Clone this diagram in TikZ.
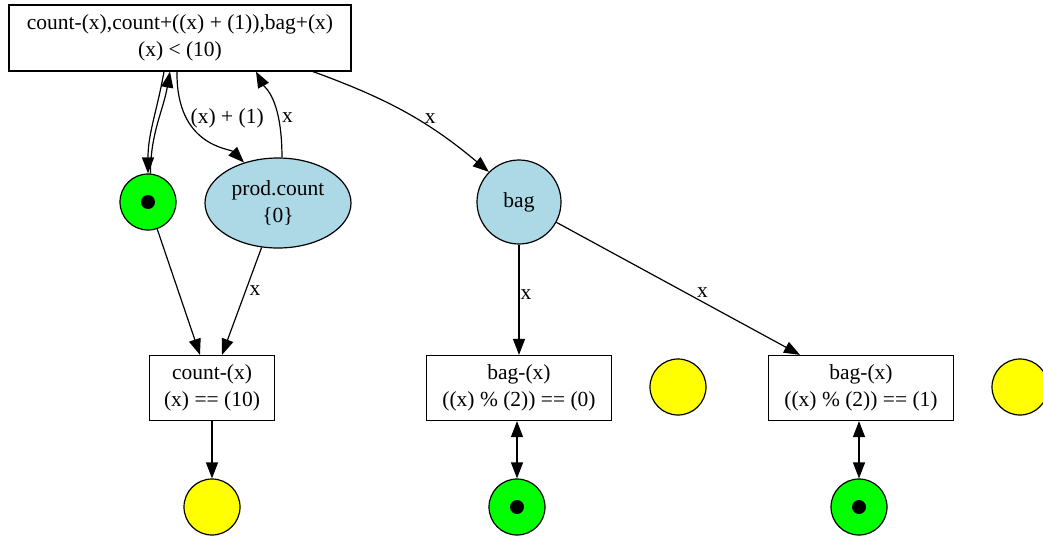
\documentclass[tikz,border=0pt]{standalone}
\usepackage{fontspec}
\setmainfont{Liberation Serif}
\usetikzlibrary{shapes.geometric,arrows.meta}
\definecolor{placegreen}{HTML}{00FF00}
\definecolor{placeyellow}{HTML}{FFFF00}
\definecolor{placeblue}{HTML}{ADD8E6}
\tikzset{
  trans/.style={draw, rectangle, align=center, inner sep=0pt, minimum height=65pt},
  place/.style={draw, circle, inner sep=0pt, minimum size=56pt},
  marked/.style={place, fill=placegreen,
    path picture={\fill[black] (path picture bounding box.center) circle (7pt);}},
  empty/.style={place, fill=placeyellow},
  arc/.style={-{Triangle[length=16pt,width=12pt]}},
  biarc/.style={{Triangle[length=16pt,width=12pt]}-{Triangle[length=16pt,width=12pt]}},
}
\begin{document}
\begin{tikzpicture}[x=1pt,y=-1pt,line width=1.2pt,font=\fontsize{21.5}{27}\selectfont]
    \useasboundingbox (0,0) rectangle (1043,535);
    \node[trans,minimum width=342pt,minimum height=66pt] (t) at (180,38) {count-(x),count+((x) + (1)),bag+(x)\\(x) < (10)};
    \node[marked] (g1) at (148,202) {};
    \node[draw,ellipse,fill=placeblue,minimum width=146pt,minimum height=90pt,inner sep=0pt,align=center] (pc) at (278,203) {prod.count\\\{0\}};
    \node[place,fill=placeblue,minimum size=84pt] (bag) at (519,202) {bag};
    \node[trans,minimum width=125pt] (c) at (212,388) {count-(x)\\(x) == (10)};
    \node[empty] (y1) at (212,507) {};
    \node[trans,minimum width=185pt] (b1) at (519,388) {bag-(x)\\((x) \% (2)) == (0)};
    \node[empty] (y2) at (678,387) {};
    \node[marked] (g2) at (517,507) {};
    \node[trans,minimum width=185pt] (b2) at (861,388) {bag-(x)\\((x) \% (2)) == (1)};
    \node[empty] (y3) at (1020,387) {};
    \node[marked] (g3) at (859,507) {};
    \draw[arc] ([xshift=-16pt]t.south) to[out=-100,in=90] (g1.north);
    \draw[arc] (g1.85) to[out=90,in=-100] ([xshift=-10pt]t.south);
    \draw[arc] ([xshift=-3pt]t.south) .. controls ([xshift=-4pt,yshift=-75pt]t.south) and ([xshift=-14pt,yshift=14pt]pc.130) .. node[pos=0.4,right,inner sep=2pt,xshift=-8pt,yshift=14pt]{(x) + (1)} (pc.130);
    \draw[arc] (pc.85) .. controls ([yshift=60pt]pc.85) and ([xshift=84pt,yshift=-15pt]t.south) .. node[pos=0.45,right,inner sep=3pt,xshift=5pt,yshift=-16pt]{x} ([xshift=76pt]t.south);
    \draw[arc] ([xshift=133pt]t.south) to[out=-20,in=140] node[pos=0.65,above]{x} (bag.135);
    \draw[arc] (g1) -- ([xshift=-12pt]c.north);
    \draw[arc] (pc) -- node[pos=0.4,right]{x} ([xshift=10pt]c.north);
    \draw[arc] (c) -- (y1);
    \draw[arc] (bag) -- node[pos=0.45,right,inner sep=1pt]{x} (b1);
    \draw[arc] (bag) -- node[pos=0.6,above]{x} ([xshift=-61pt]b2.north);
    \draw[biarc] (b1.south -| g2) -- (g2);
    \draw[biarc] (b2.south -| g3) -- (g3);
\end{tikzpicture}
\end{document}
